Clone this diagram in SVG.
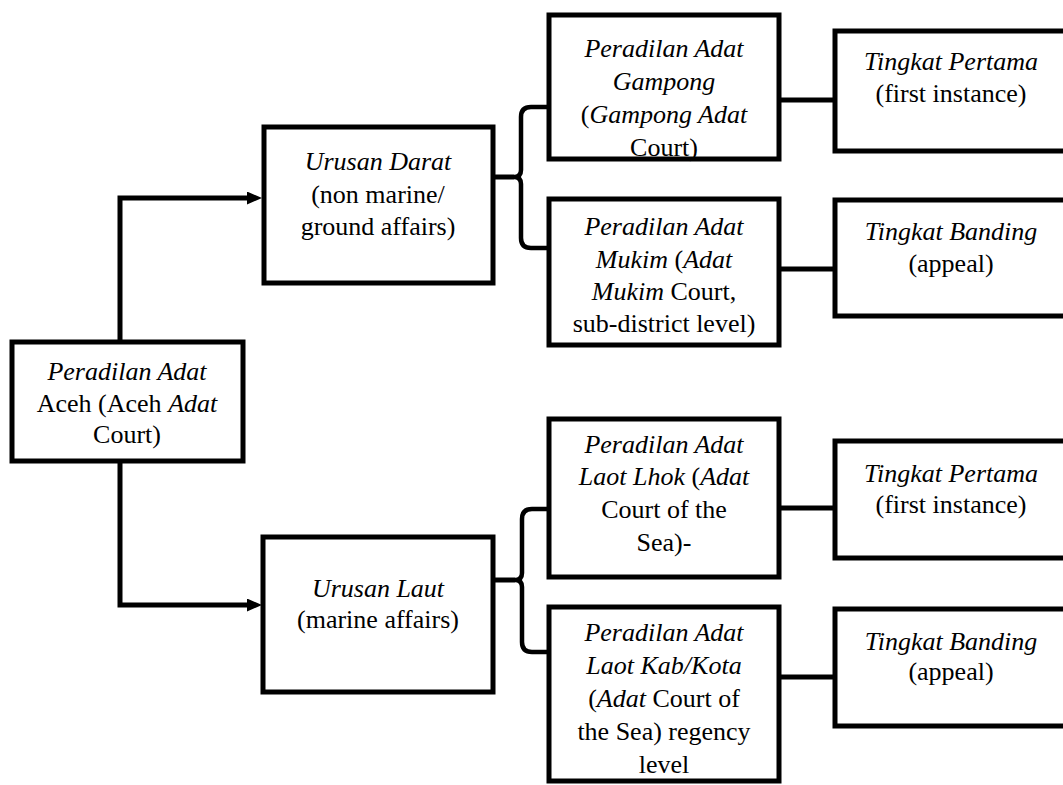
<svg xmlns="http://www.w3.org/2000/svg" width="1063" height="785" viewBox="0 0 1063 785">
<defs>
<style>
.box{fill:#fff;stroke:#000;stroke-width:5;}
.ln{fill:none;stroke:#000;stroke-width:5;stroke-linejoin:miter;}
.br{fill:none;stroke:#000;stroke-width:4.5;}
text{font-family:'Liberation Serif','DejaVu Serif',serif;font-size:26px;fill:#000;text-anchor:middle;}
.i{font-style:italic;}
</style>
<marker id="ah" markerUnits="userSpaceOnUse" markerWidth="16" markerHeight="14" refX="0" refY="6.5" orient="auto" viewBox="0 0 16 14">
<path d="M0,0 L15,6.5 L0,13 z" fill="#000"/>
</marker>
</defs>
<rect width="1063" height="785" fill="#fff"/>
<g id="connectors">
<path class="ln" d="M120,343 V198 H247" marker-end="url(#ah)"/>
<path class="ln" d="M120,460 V605 H247" marker-end="url(#ah)"/>
<path class="ln" d="M493,177 H514"/>
<path class="br" d="M549,107 H531 Q521,107 521,117 V170 Q521,177 514,177 Q521,177 521,184 V238 Q521,248 531,248 H549"/>
<path class="ln" d="M493,580 H515"/>
<path class="br" d="M549,509 H532 Q522,509 522,519 V573 Q522,580 515,580 Q522,580 522,587 V642 Q522,652 532,652 H549"/>
<path class="ln" d="M779,100 H835"/>
<path class="ln" d="M779,269 H835"/>
<path class="ln" d="M779,508 H835"/>
<path class="ln" d="M779,677 H835"/>
</g>
<g font-family="Liberation Serif, DejaVu Serif, serif">
<g id="aceh">
<rect class="box" x="12" y="342" width="231" height="119"/>
<text x="127" y="380"><tspan class="i">Peradilan Adat</tspan></text>
<text x="127" y="412">Aceh (Aceh <tspan class="i">Adat</tspan></text>
<text x="127" y="443">Court)</text>
</g>
<g id="darat">
<rect class="box" x="264" y="127" width="229" height="156"/>
<text x="378" y="170"><tspan class="i">Urusan Darat</tspan></text>
<text x="378" y="203">(non marine/</text>
<text x="378" y="235">ground affairs)</text>
</g>
<g id="laut">
<rect class="box" x="263" y="537" width="230" height="155"/>
<text x="378" y="597"><tspan class="i">Urusan Laut</tspan></text>
<text x="378" y="628">(marine affairs)</text>
</g>
<g id="gampong">
<rect class="box" x="549" y="15" width="230" height="144"/>
<text x="664" y="57"><tspan class="i">Peradilan Adat</tspan></text>
<text x="664" y="90"><tspan class="i">Gampong</tspan></text>
<text x="664" y="123">(<tspan class="i">Gampong Adat</tspan></text>
<text x="664" y="156">Court)</text>
</g>
<g id="mukim">
<rect class="box" x="549" y="199" width="230" height="146"/>
<text x="664" y="235"><tspan class="i">Peradilan Adat</tspan></text>
<text x="664" y="268"><tspan class="i">Mukim</tspan> (<tspan class="i">Adat</tspan></text>
<text x="664" y="300"><tspan class="i">Mukim</tspan> Court,</text>
<text x="664" y="332">sub-district level)</text>
</g>
<g id="laot-lhok">
<rect class="box" x="549" y="419" width="230" height="158"/>
<text x="664" y="453"><tspan class="i">Peradilan Adat</tspan></text>
<text x="664" y="485"><tspan class="i">Laot Lhok</tspan> (<tspan class="i">Adat</tspan></text>
<text x="664" y="518">Court of the</text>
<text x="664" y="551">Sea)-</text>
</g>
<g id="laot-kab">
<rect class="box" x="549" y="607" width="230" height="174"/>
<text x="664" y="641"><tspan class="i">Peradilan Adat</tspan></text>
<text x="664" y="674"><tspan class="i">Laot Kab/Kota</tspan></text>
<text x="664" y="707">(<tspan class="i">Adat</tspan> Court of</text>
<text x="664" y="740">the Sea) regency</text>
<text x="664" y="773">level</text>
</g>
<g id="pertama1">
<rect class="box" x="835" y="31" width="240" height="120"/>
<text x="951" y="70"><tspan class="i">Tingkat Pertama</tspan></text>
<text x="951" y="102">(first instance)</text>
</g>
<g id="banding1">
<rect class="box" x="835" y="200" width="240" height="116"/>
<text x="951" y="240"><tspan class="i">Tingkat Banding</tspan></text>
<text x="951" y="272">(appeal)</text>
</g>
<g id="pertama2">
<rect class="box" x="835" y="441" width="240" height="117"/>
<text x="951" y="482"><tspan class="i">Tingkat Pertama</tspan></text>
<text x="951" y="513">(first instance)</text>
</g>
<g id="banding2">
<rect class="box" x="835" y="609" width="240" height="117"/>
<text x="951" y="650"><tspan class="i">Tingkat Banding</tspan></text>
<text x="951" y="680">(appeal)</text>
</g>
</g>
</svg>
